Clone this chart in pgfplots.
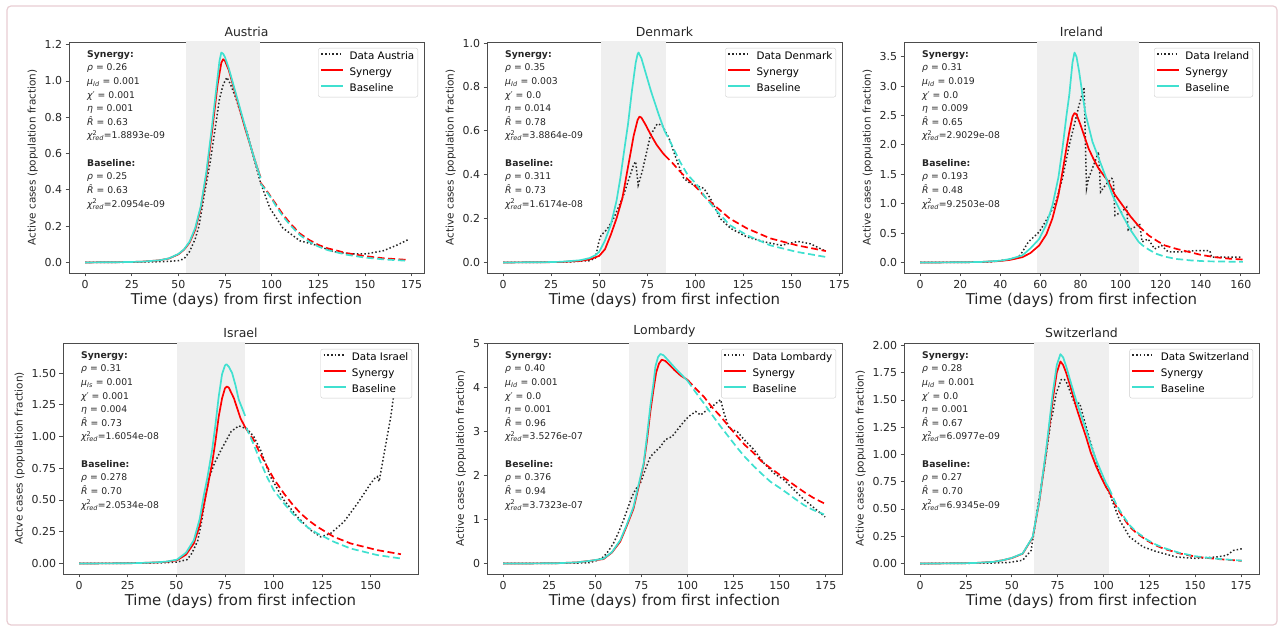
\documentclass[border=0pt]{standalone}
\usepackage{fontspec}
\setmainfont{DejaVu Sans}
\usepackage{pgfplots}
\pgfplotsset{compat=1.18}

\definecolor{turq}{RGB}{64,224,208}
\definecolor{shade}{RGB}{239,239,239}
\definecolor{pinkframe}{RGB}{232,205,210}

\newcommand{\rr}{{\itshape ρ}}
\newcommand{\mmu}[1]{{\itshape μ}\textsubscript{\itshape #1}}
\newcommand{\cp}{{\itshape χ}′}
\newcommand{\et}{{\itshape η}}
\newcommand{\Rh}{{\itshape\^{R}}}
\newcommand{\chis}{{\itshape χ}\rlap{\textsuperscript{2}}\textsubscript{\itshape red}}
\newcommand{\block}[1]{\node[anchor=north west, align=left, inner sep=0, xshift=18bp, yshift=-8bp,
  font=\fontsize{9.3}{13.7}\selectfont, text=black!85] at (rel axis cs:0,1) {#1};}
\newcommand{\expo}{\node[anchor=south west, inner sep=0, yshift=2.5bp,
  font=\fontsize{11}{13}\selectfont, text=black!85] at (rel axis cs:0,1) {1e−3};}
\newcommand{\legs}[1]{\addlegendimage{dat}\addlegendentry{#1}
  \addlegendimage{syn}\addlegendentry{Synergy}
  \addlegendimage{bas}\addlegendentry{Baseline}}

\pgfplotsset{
  panel/.style={
    scale only axis, width=355bp, height=231bp, anchor=north west,
    tick pos=left, tick align=outside, major tick length=3.5bp,
    axis line style={black!70, line width=0.8bp},
    every tick/.append style={black!70, line width=0.8bp},
    ticklabel style={font=\fontsize{11}{13}\selectfont, text=black!85},
    /pgf/number format/assume math mode=true,
    title style={font=\fontsize{12.5}{15}\selectfont, text=black!85, yshift=-4bp},
    xlabel={Time (days) from first infection},
    xlabel style={font=\fontsize{15}{17}\selectfont, text=black!85, yshift=2bp},
    ylabel={Active cases (population fraction)},
    ylabel style={font=\fontsize{10.5}{12}\selectfont, text=black!85},
    legend cell align=left,
    legend style={at={(1,1)}, anchor=north east, xshift=-6bp, yshift=-6bp,
      draw=black!20, rounded corners=2bp, fill=white,
      font=\fontsize{10.4}{12}\selectfont, inner xsep=2bp, inner ysep=2bp,
      nodes={inner sep=1.5bp, text height=0.75em, text depth=0.25em},
      row sep=3bp, column sep=4bp},
    legend image code/.code={\draw[##1, line cap=butt] (0bp,2.5bp) -- (22bp,2.5bp);},
  },
  dat/.style={black!85, line width=1.5bp, dash pattern=on 1.5bp off 2.2bp},
  syn/.style={red, line width=1.7bp, line join=round},
  bas/.style={turq, line width=1.7bp, line join=round},
  synd/.style={syn, dash pattern=on 7bp off 3.5bp},
  basd/.style={bas, dash pattern=on 7bp off 3.5bp},
  shd/.style={draw=none, fill=shade},
  every axis plot/.append style={forget plot},
}

\begin{document}
\begin{tikzpicture}
\path (0bp,0bp) rectangle (1283bp,628bp);
\draw[pinkframe, line width=1.2bp, rounded corners=4bp] (7bp,3bp) rectangle (1277bp,622bp);

% ---------------- Austria
\begin{axis}[panel, at={(69bp,586bp)}, title={Austria},
  xmin=-8.65, xmax=181.65, ymin=-0.058, ymax=1.215,
  xtick={0,25,...,175}, ytick={0,0.2,...,1.2},
  yticklabel style={/pgf/number format/.cd, fixed, fixed zerofill, precision=1}]
\addplot[shd] coordinates {(54,-1) (54,10) (94,10) (94,-1)};
\addplot[dat] coordinates {(0,0)(20,0.001)(35,0.003)(45,0.006)(50,0.01)(53,0.02)(56,0.06)(59,0.13)(61,0.2)(64,0.38)(67,0.55)(70,0.76)(72,0.90)(74,0.98)(76,1.02)(78,0.98)(81,0.90)(84,0.80)(87,0.71)(90,0.59)(94,0.44)(99,0.30)(106,0.19)(115,0.12)(124,0.095)(133,0.06)(142,0.048)(151,0.048)(160,0.065)(167,0.095)(173,0.125)};
\addplot[syn] coordinates {(0,0)(10,0.001)(20,0.002)(30,0.004)(40,0.012)(45,0.022)(50,0.045)(53,0.07)(56,0.11)(59,0.18)(62,0.30)(65,0.48)(68,0.72)(71,0.98)(73,1.10)(74,1.12)(75,1.11)(77,1.06)(80,0.95)(83,0.84)(86,0.73)(89,0.63)(92,0.53)(94,0.47)};
\addplot[synd] coordinates {(94,0.44)(97,0.40)(100,0.355)(103,0.31)(106,0.265)(110,0.215)(115,0.16)(120,0.125)(125,0.097)(130,0.078)(140,0.052)(150,0.035)(160,0.023)(173,0.014)};
\addplot[bas] coordinates {(0,0)(10,0.001)(20,0.002)(30,0.004)(40,0.012)(45,0.023)(50,0.047)(53,0.072)(56,0.115)(59,0.19)(62,0.31)(65,0.50)(68,0.75)(71,1.02)(72,1.11)(73,1.157)(74,1.15)(75,1.13)(77,1.07)(80,0.96)(83,0.85)(86,0.74)(89,0.63)(92,0.53)(94,0.465)};
\addplot[basd] coordinates {(94,0.435)(97,0.395)(100,0.35)(103,0.30)(106,0.255)(110,0.205)(115,0.152)(120,0.115)(125,0.088)(130,0.068)(140,0.043)(150,0.027)(160,0.017)(173,0.009)};
\legs{Data Austria}
\expo
\block{\textbf{Synergy:}\\ \rr{} = 0.26\\ \mmu{Id} = 0.001\\ \cp{} = 0.001\\ \et{} = 0.001\\ \Rh{} = 0.63\\ \chis=1.8893e-09\\[13.7bp]
\textbf{Baseline:}\\ \rr{} = 0.25\\ \Rh{} = 0.63\\ \chis=2.0954e-09}
\end{axis}

% ---------------- Denmark
\begin{axis}[panel, at={(487bp,586bp)}, title={Denmark},
  xmin=-8.4, xmax=176.4, ymin=-0.048, ymax=1.005,
  xtick={0,25,...,175}, ytick={0,0.2,...,1.0},
  yticklabel style={/pgf/number format/.cd, fixed, fixed zerofill, precision=1}]
\addplot[shd] coordinates {(51,-1) (51,10) (85,10) (85,-1)};
\addplot[dat] coordinates {(0,0)(20,0.001)(35,0.003)(45,0.008)(48,0.02)(50,0.10)(51,0.124)(54,0.15)(57.5,0.20)(62.7,0.307)(67.9,0.445)(69,0.46)(70.3,0.353)(72.4,0.415)(76.7,0.58)(80.2,0.632)(82.8,0.625)(86.3,0.567)(90.6,0.46)(94,0.384)(97.5,0.36)(104.5,0.338)(108,0.29)(113,0.20)(118.5,0.155)(127,0.116)(136,0.094)(144.7,0.078)(153.4,0.096)(160,0.085)(167,0.055)};
\addplot[syn] coordinates {(0,0)(10,0.0005)(20,0.001)(30,0.002)(40,0.007)(45,0.014)(50,0.03)(53,0.06)(56,0.125)(59,0.20)(62,0.29)(65,0.435)(68,0.58)(70,0.65)(71,0.665)(72,0.66)(74,0.63)(77,0.58)(80,0.535)(83,0.50)(84,0.49)};
\addplot[synd] coordinates {(84,0.49)(88,0.455)(92,0.415)(96,0.38)(101,0.338)(105,0.30)(110,0.26)(118,0.20)(127,0.155)(139,0.11)(153,0.078)(168,0.052)};
\addplot[bas] coordinates {(0,0)(10,0.0005)(20,0.001)(30,0.003)(40,0.01)(45,0.02)(48,0.033)(50,0.048)(53,0.10)(56,0.17)(59,0.28)(61,0.384)(63,0.51)(65,0.63)(67,0.78)(69,0.91)(70,0.95)(70.5,0.957)(72,0.93)(74,0.87)(77,0.78)(81,0.674)(84,0.60)};
\addplot[basd] coordinates {(84,0.60)(87,0.55)(92,0.46)(96,0.40)(101,0.353)(105,0.30)(110,0.246)(118,0.17)(127,0.124)(139,0.078)(153,0.048)(168,0.025)};
\legs{Data Denmark}
\expo
\block{\textbf{Synergy:}\\ \rr{} = 0.35\\ \mmu{Id} = 0.003\\ \cp{} = 0.0\\ \et{} = 0.014\\ \Rh{} = 0.78\\ \chis=3.8864e-09\\[13.7bp]
\textbf{Baseline:}\\ \rr{} = 0.311\\ \Rh{} = 0.73\\ \chis=1.6174e-08}
\end{axis}

% ---------------- Ireland
\begin{axis}[panel, at={(904bp,586bp)}, title={Ireland},
  xmin=-8.05, xmax=169.05, ymin=-0.179, ymax=3.75,
  xtick={0,20,...,160}, ytick={0,0.5,...,3.5},
  yticklabel style={/pgf/number format/.cd, fixed, fixed zerofill, precision=1}]
\addplot[shd] coordinates {(58.5,-1) (58.5,10) (109,10) (109,-1)};
\addplot[dat] coordinates {(0,0)(20,0.001)(35,0.01)(44,0.05)(49,0.09)(51,0.18)(54,0.35)(59.4,0.52)(64.4,0.80)(67.7,1.03)(71,1.43)(74.4,2.0)(76.9,2.34)(79.3,2.68)(81.8,2.98)(83,1.26)(84,1.43)(86.6,1.66)(89,1.88)(90,1.20)(92.3,1.31)(95.6,1.43)(96.4,1.40)(97.2,0.80)(100.5,0.86)(103,0.94)(103.8,0.55)(107,0.60)(109.5,0.66)(110.7,0.35)(113.7,0.40)(117,0.23)(120.4,0.29)(123.7,0.18)(130.4,0.18)(137,0.20)(144.5,0.20)(145.4,0.09)(153.8,0.09)(160.5,0.09)};
\addplot[syn] coordinates {(0,0)(10,0.001)(20,0.003)(30,0.008)(40,0.025)(45,0.045)(51,0.09)(55,0.16)(59.4,0.29)(63,0.48)(66,0.75)(69,1.15)(71,1.54)(73,1.95)(74.4,2.22)(76,2.48)(77,2.54)(78,2.52)(80,2.34)(82,2.14)(84,1.94)(86.5,1.76)(89,1.60)(94,1.37)(97,1.16)(101,0.97)(105,0.78)(109,0.62)};
\addplot[synd] coordinates {(109,0.62)(114,0.46)(118,0.37)(122,0.29)(128,0.23)(134,0.18)(140,0.13)(147,0.09)(154,0.065)(161,0.05)};
\addplot[bas] coordinates {(0,0)(10,0.001)(20,0.003)(30,0.008)(40,0.03)(45,0.06)(51,0.12)(55,0.24)(59.4,0.40)(63,0.65)(66,0.97)(69,1.45)(71,1.94)(73,2.5)(74.4,2.85)(76,3.4)(77,3.57)(78,3.5)(79.3,3.25)(81,2.85)(82.6,2.51)(86,2.05)(91,1.60)(96,1.14)(101,0.80)(105,0.55)(109,0.35)};
\addplot[basd] coordinates {(109,0.35)(111,0.29)(114,0.22)(117.6,0.15)(122,0.10)(127.6,0.06)(135,0.035)(142.6,0.02)(161,0.01)};
\legs{Data Ireland}
\expo
\block{\textbf{Synergy:}\\ \rr{} = 0.31\\ \mmu{Id} = 0.019\\ \cp{} = 0.0\\ \et{} = 0.009\\ \Rh{} = 0.65\\ \chis=2.9029e-08\\[13.7bp]
\textbf{Baseline:}\\ \rr{} = 0.193\\ \Rh{} = 0.48\\ \chis=9.2503e-08}
\end{axis}

% ---------------- Israel
\begin{axis}[panel, at={(63bp,285bp)}, title={Israel},
  ylabel={Actve cases (population fraction)},
  xmin=-8.3, xmax=174.3, ymin=-0.083, ymax=1.737,
  xtick={0,25,...,150}, ytick={0,0.25,...,1.5},
  yticklabel style={/pgf/number format/.cd, fixed, fixed zerofill, precision=2}]
\addplot[shd] coordinates {(50.5,-1) (50.5,10) (85.5,10) (85.5,-1)};
\addplot[dat] coordinates {(0,0)(20,0.001)(40,0.004)(50,0.01)(55.5,0.03)(58,0.08)(61,0.18)(63,0.33)(65,0.526)(67,0.68)(69.6,0.79)(73,0.894)(78.2,1.04)(82.1,1.084)(86.4,1.06)(89.8,1.0)(93.3,0.894)(98.4,0.684)(105.3,0.50)(112.2,0.368)(119,0.263)(124.2,0.21)(129.4,0.237)(136.3,0.33)(143.2,0.474)(150,0.63)(152,0.67)(153.4,0.684)(154.3,0.645)(156.9,0.868)(160.3,1.157)(162.9,1.447)(165.2,1.618)(166,1.654)};
\addplot[syn] coordinates {(0,0)(10,0.0005)(20,0.001)(30,0.003)(40,0.008)(45,0.013)(50.3,0.025)(55,0.07)(59,0.158)(62,0.30)(64,0.447)(66,0.60)(68.4,0.789)(70,0.95)(71.8,1.157)(73.5,1.30)(75,1.38)(76,1.394)(77,1.385)(79.6,1.302)(83,1.144)(85.4,1.073)};
\addplot[synd] coordinates {(85.4,1.073)(89.8,0.973)(93,0.87)(96.7,0.762)(100,0.67)(105.3,0.552)(110,0.46)(113.9,0.395)(118,0.34)(122.5,0.289)(131,0.21)(139.6,0.158)(153.4,0.105)(165.5,0.073)};
\addplot[bas] coordinates {(0,0)(10,0.0005)(20,0.001)(30,0.003)(40,0.009)(45,0.015)(50.3,0.03)(55,0.085)(59,0.184)(62,0.35)(64,0.526)(66,0.68)(68.4,0.894)(70,1.08)(71.8,1.315)(73.5,1.49)(75,1.56)(75.8,1.57)(77,1.55)(78.7,1.50)(80.5,1.40)(82.1,1.29)(85.4,1.163)};
\addplot[basd] coordinates {(86,1.07)(90,0.93)(93,0.81)(96.7,0.68)(100,0.58)(105.3,0.474)(110,0.39)(113.9,0.33)(118,0.28)(122.5,0.237)(131,0.171)(139.6,0.118)(153.4,0.066)(165.5,0.039)};
\legs{Data Israel}
\expo
\block{\textbf{Synergy:}\\ \rr{} = 0.31\\ \mmu{Is} = 0.001\\ \cp{} = 0.001\\ \et{} = 0.004\\ \Rh{} = 0.73\\ \chis=1.6054e-08\\[13.7bp]
\textbf{Baseline:}\\ \rr{} = 0.278\\ \Rh{} = 0.70\\ \chis=2.0534e-08}
\end{axis}

% ---------------- Lombardy
\begin{axis}[panel, at={(487bp,285bp)}, title={Lombardy},
  xmin=-8.75, xmax=183.75, ymin=-0.239, ymax=5.02,
  xtick={0,25,...,175}, ytick={0,1,...,5}]
\addplot[shd] coordinates {(68,-1) (68,10) (100,10) (100,-1)};
\addplot[dat] coordinates {(0,0)(20,0.001)(40,0.01)(47,0.02)(51,0.07)(54.4,0.15)(57,0.28)(59.8,0.46)(62.5,0.70)(65.3,0.99)(67.5,1.25)(69.8,1.52)(72,1.70)(74.3,1.81)(77,2.13)(79.8,2.43)(82.6,2.55)(85.3,2.66)(88,2.82)(91.6,2.89)(94.4,3.04)(98,3.23)(100.7,3.35)(104.4,3.46)(107.1,3.38)(110.7,3.50)(114.4,3.61)(117.9,3.73)(119.8,3.42)(122.5,3.08)(127,3.0)(130.7,2.82)(136,2.59)(141.5,2.28)(147,2.05)(152.4,1.90)(157.9,1.67)(163.3,1.45)(168.8,1.26)(174.6,1.06)};
\addplot[syn] coordinates {(0,0)(10,0.001)(20,0.003)(30,0.008)(40,0.025)(47,0.06)(54.4,0.10)(59,0.25)(63.5,0.50)(67,0.85)(70.7,1.25)(73.5,1.75)(76.2,2.25)(78,2.8)(79.8,3.45)(81.5,3.95)(83,4.35)(84.5,4.55)(86,4.64)(88,4.61)(90.7,4.50)(93,4.40)(96.2,4.28)(100,4.18)};
\addplot[synd] coordinates {(100,4.18)(104,4.0)(108.8,3.80)(113,3.57)(117.9,3.35)(122,3.14)(127,2.89)(131,2.70)(136,2.51)(140,2.33)(145,2.17)(150,2.02)(154.1,1.90)(158,1.78)(163.1,1.63)(168,1.50)(174,1.37)};
\addplot[bas] coordinates {(0,0)(10,0.001)(20,0.003)(30,0.008)(40,0.025)(47,0.06)(54.4,0.11)(59,0.26)(63.5,0.53)(67,0.88)(70.7,1.29)(73.5,1.80)(76.2,2.28)(78,2.9)(79.8,3.58)(81.5,4.1)(82.6,4.49)(84,4.70)(85.3,4.77)(87,4.74)(90.7,4.57)(93,4.46)(96.2,4.32)(100,4.16)};
\addplot[basd] coordinates {(100,4.16)(104,3.92)(108.8,3.65)(113,3.40)(117.9,3.12)(122,2.90)(127,2.63)(131,2.43)(136,2.21)(140,2.05)(145,1.86)(150,1.72)(154.1,1.60)(158,1.48)(163.1,1.33)(168,1.22)(174,1.12)};
\legs{Data Lombardy}
\expo
\block{\textbf{Synergy:}\\ \rr{} = 0.40\\ \mmu{Id} = 0.001\\ \cp{} = 0.0\\ \et{} = 0.001\\ \Rh{} = 0.96\\ \chis=3.5276e-07\\[13.7bp]
\textbf{Beseline:}\\ \rr{} = 0.376\\ \Rh{} = 0.94\\ \chis=3.7323e-07}
\end{axis}

% ---------------- Switzerland
\begin{axis}[panel, at={(904bp,285bp)}, title={Switzerland},
  xmin=-8.8, xmax=184.8, ymin=-0.096, ymax=2.022,
  xtick={0,25,...,175}, ytick={0,0.25,...,2.0},
  yticklabel style={/pgf/number format/.cd, fixed, fixed zerofill, precision=2}]
\addplot[shd] coordinates {(62,-1) (62,10) (103,10) (103,-1)};
\addplot[dat] coordinates {(0,0)(20,0.001)(40,0.005)(48.6,0.01)(55.9,0.03)(60.5,0.12)(62,0.28)(64.1,0.52)(67.8,0.89)(71.4,1.32)(72,1.35)(74.2,1.56)(76.9,1.685)(78.5,1.69)(79.6,1.67)(81.5,1.59)(84.2,1.47)(87,1.47)(90.5,1.255)(94.2,1.04)(97.8,0.83)(103.3,0.64)(108.7,0.40)(114.2,0.245)(121.5,0.153)(128.8,0.11)(139.7,0.06)(150.7,0.047)(161.7,0.06)(167.2,0.075)(170.8,0.12)(176.3,0.138)};
\addplot[syn] coordinates {(0,0)(10,0.001)(20,0.002)(30,0.005)(40,0.015)(45,0.03)(50,0.05)(55.9,0.09)(61.4,0.24)(65,0.57)(68.7,1.02)(72.3,1.50)(74.5,1.75)(76.5,1.853)(78,1.82)(79.6,1.75)(82,1.62)(85,1.44)(87.7,1.30)(90.5,1.16)(93,1.02)(96,0.89)(99,0.78)(101.4,0.70)(103,0.66)};
\addplot[synd] coordinates {(103,0.66)(107,0.52)(110,0.44)(114.3,0.336)(118,0.28)(123.4,0.214)(128,0.17)(132.5,0.138)(141.6,0.092)(150.7,0.062)(161.7,0.042)(175.4,0.025)};
\addplot[bas] coordinates {(0,0)(10,0.001)(20,0.002)(30,0.005)(40,0.015)(45,0.03)(50,0.052)(55.9,0.092)(61.4,0.245)(65,0.58)(68.7,1.04)(72.3,1.56)(74.5,1.82)(76.5,1.92)(78,1.89)(79.6,1.81)(82,1.67)(85,1.50)(87.7,1.36)(90.5,1.225)(93,1.09)(96,0.95)(99,0.83)(101.4,0.735)(103,0.69)};
\addplot[basd] coordinates {(103,0.69)(107,0.54)(110,0.455)(114.3,0.35)(118,0.29)(123.4,0.222)(128,0.178)(132.5,0.145)(141.6,0.097)(150.7,0.065)(161.7,0.044)(175.4,0.026)};
\legs{Data Switzerland}
\expo
\block{\textbf{Synergy:}\\ \rr{} = 0.28\\ \mmu{Id} = 0.001\\ \cp{} = 0.0\\ \et{} = 0.001\\ \Rh{} = 0.67\\ \chis=6.0977e-09\\[13.7bp]
\textbf{Baseline:}\\ \rr{} = 0.27\\ \Rh{} = 0.70\\ \chis=6.9345e-09}
\end{axis}
\end{tikzpicture}
\end{document}
